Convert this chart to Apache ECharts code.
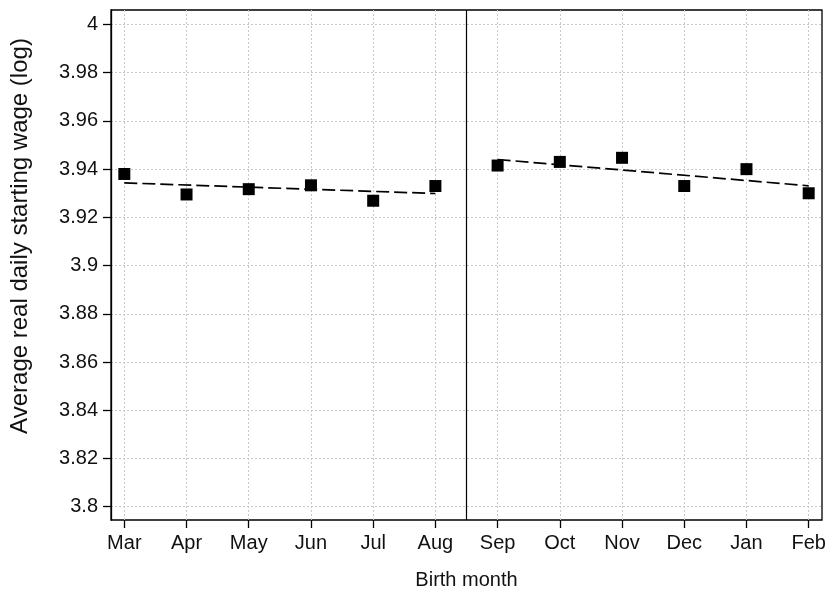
<!DOCTYPE html>
<html>
<head>
<meta charset="utf-8">
<script src="https://cdn.jsdelivr.net/npm/echarts@6/dist/echarts.min.js"></script>
<style>
  html, body { margin: 0; padding: 0; background: #fff; }
  #chart { width: 831px; height: 599px; }
</style>
</head>
<body>
<div id="chart"></div>
<script>
const months = ["Mar", "Apr", "May", "Jun", "Jul", "Aug", "Sep", "Oct", "Nov", "Dec", "Jan", "Feb"];
const monthIdx = [1, 2, 3, 4, 5, 6, 7, 8, 9, 10, 11, 12];
const wage = [3.938, 3.9295, 3.9317, 3.9333, 3.9269, 3.933, 3.9415, 3.943, 3.9447, 3.933, 3.940, 3.930];
// fitted lines, endpoints of each side
const fitLeftX = [1, 6];
const fitLeftY = [3.9343, 3.9299];
const fitRightX = [7, 12];
const fitRightY = [3.9440, 3.9331];
const cutoff = 6.5;
const yTicks = [3.8, 3.82, 3.84, 3.86, 3.88, 3.9, 3.92, 3.94, 3.96, 3.98, 4];

const FONT = "'Liberation Sans', Arial, Helvetica, sans-serif";

const chart = echarts.init(document.getElementById("chart"));

const dashStyle = { color: "#000", width: 1.7, type: [13, 5] };

chart.setOption({
  animation: false,
  backgroundColor: "#fff",
  grid: {
    left: 111, right: 9, top: 10, bottom: 79,
    show: true, borderColor: "#000", borderWidth: 1.3
  },
  xAxis: {
    type: "value",
    min: 0.786,
    max: 12.214,
    name: "Birth month",
    nameLocation: "middle",
    nameGap: 50,
    nameTextStyle: { color: "#111", fontSize: 20, fontFamily: FONT },
    axisLine: { show: false },
    axisTick: { show: true, inside: false, length: 8, customValues: monthIdx,
      lineStyle: { color: "#000", width: 1.3 } },
    axisLabel: {
      customValues: monthIdx,
      margin: 13,
      color: "#111",
      fontSize: 20,
      fontFamily: FONT,
      formatter: v => months[Math.round(v) - 1]
    },
    splitLine: { show: true, lineStyle: { color: "#c8c8c8", width: 1, type: [2, 2] } }
  },
  yAxis: {
    type: "value",
    min: 3.7945,
    max: 4.006,
    axisLine: { show: true, lineStyle: { color: "#000", width: 1.3 } },
    axisTick: { show: true, inside: false, length: 8, customValues: yTicks,
      lineStyle: { color: "#000", width: 1.3 } },
    axisLabel: {
      customValues: yTicks,
      margin: 13,
      color: "#111",
      fontSize: 20,
      fontFamily: FONT,
      formatter: v => String(+v.toFixed(2))
    },
    splitLine: { show: true, lineStyle: { color: "#c8c8c8", width: 1, type: [2, 2] } }
  },
  graphic: [{
    type: "text",
    x: 20,
    y: 236,
    rotation: Math.PI / 2,
    style: {
      text: "Average real daily starting wage (log)",
      fill: "#111",
      font: "24px " + FONT,
      align: "center",
      verticalAlign: "middle"
    }
  }],
  series: [
    {
      type: "line",
      data: fitLeftX.map((x, i) => [x, fitLeftY[i]]),
      symbol: "none",
      lineStyle: dashStyle,
      z: 2
    },
    {
      type: "line",
      data: fitRightX.map((x, i) => [x, fitRightY[i]]),
      symbol: "none",
      lineStyle: dashStyle,
      z: 2
    },
    {
      type: "scatter",
      data: monthIdx.map((x, i) => [x, wage[i]]),
      symbol: "rect",
      symbolSize: 12,
      itemStyle: { color: "#000", opacity: 1 },
      z: 3,
      markLine: {
        silent: true,
        symbol: "none",
        label: { show: false },
        lineStyle: { color: "#000", width: 1.2, type: "solid" },
        data: [{ xAxis: cutoff }]
      }
    }
  ]
});
</script>
</body>
</html>
